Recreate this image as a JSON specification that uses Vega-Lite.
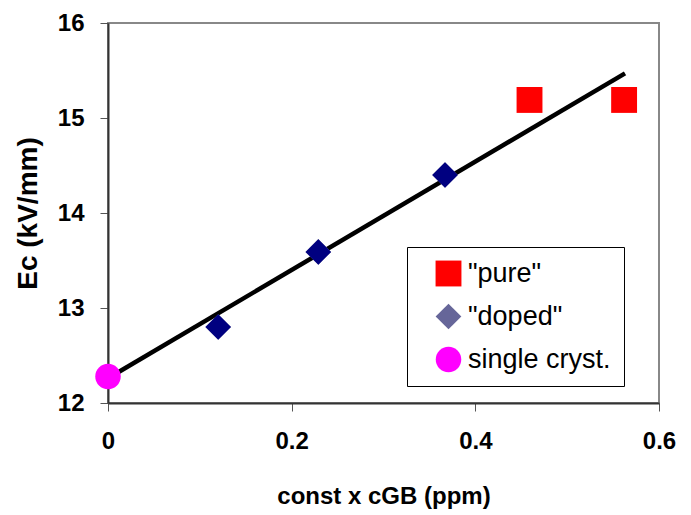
{
  "$schema": "https://vega.github.io/schema/vega-lite/v6.json",
  "width": 551,
  "height": 380,
  "autosize": {"type": "none"},
  "padding": {"left": 108, "top": 23, "right": 32, "bottom": 112},
  "background": "white",
  "config": {
    "font": "Liberation Sans",
    "view": {"stroke": "#888888", "strokeWidth": 2},
    "axis": {"grid": false, "labelFont": "Liberation Sans", "titleFont": "Liberation Sans", "labelFontWeight": "bold", "labelFontSize": 24, "labelColor": "#000", "tickColor": "#555", "tickSize": 8, "domainColor": "#333", "domainWidth": 2, "titleColor": "#000"}
  },
  "datasets": {
    "pts": [
      {"x": 0.0, "y": 12.28, "series": "single cryst."},
      {"x": 0.12, "y": 12.80, "series": "\"doped\""},
      {"x": 0.229, "y": 13.59, "series": "\"doped\""},
      {"x": 0.367, "y": 14.40, "series": "\"doped\""},
      {"x": 0.459, "y": 15.19, "series": "\"pure\""},
      {"x": 0.562, "y": 15.19, "series": "\"pure\""}
    ],
    "fit": [
      {"x": 0.0, "y": 12.26},
      {"x": 0.563, "y": 15.47}
    ]
  },
  "layer": [
    {
      "data": {"name": "fit"},
      "mark": {"type": "line", "color": "black", "strokeWidth": 4.5, "clip": false},
      "encoding": {
        "x": {"field": "x", "type": "quantitative", "scale": {"domain": [0, 0.6], "nice": false},
          "axis": {"values": [0, 0.2, 0.4, 0.6], "format": "~g", "title": "const x cGB (ppm)", "titleFontSize": 24, "titleFontWeight": "bold", "titlePadding": 31, "labelPadding": 18, "labelFlush": false}},
        "y": {"field": "y", "type": "quantitative", "scale": {"domain": [12, 16], "nice": false, "zero": false},
          "axis": {"values": [12, 13, 14, 15, 16], "format": "d", "title": "Ec (kV/mm)", "titleFontSize": 28, "titleFontWeight": "bold", "titlePadding": 15, "labelPadding": 16}}
      }
    },
    {
      "data": {"name": "pts"},
      "mark": {"type": "point", "filled": true, "opacity": 1, "clip": false},
      "encoding": {
        "x": {"field": "x", "type": "quantitative"},
        "y": {"field": "y", "type": "quantitative"},
        "color": {"field": "series", "type": "nominal",
          "scale": {"domain": ["\"pure\"", "\"doped\"", "single cryst."], "range": ["#FF0000", "#666699", "#FF00FF"]},
          "legend": {"title": null, "orient": "none", "legendX": 299, "legendY": 224, "strokeColor": "#000", "fillColor": "white", "padding": 13, "rowPadding": 15, "symbolSize": 420, "symbolOffset": 15, "labelFontSize": 27, "labelFont": "Liberation Sans", "labelColor": "#000", "labelOffset": 6, "symbolStrokeWidth": 0, "labelLimit": 300}},
        "shape": {"field": "series", "type": "nominal",
          "scale": {"domain": ["\"pure\"", "\"doped\"", "single cryst."], "range": ["square", "diamond", "circle"]}},
        "size": {"field": "series", "type": "nominal",
          "scale": {"domain": ["\"pure\"", "\"doped\"", "single cryst."], "range": [670, 650, 625]}, "legend": null}
      }
    },
    {
      "data": {"name": "pts"},
      "transform": [{"filter": "datum.series === '\"doped\"'"}],
      "mark": {"type": "point", "filled": true, "opacity": 1, "shape": "diamond", "size": 650, "color": "#000080", "clip": false},
      "encoding": {
        "x": {"field": "x", "type": "quantitative"},
        "y": {"field": "y", "type": "quantitative"}
      }
    }
  ]
}
